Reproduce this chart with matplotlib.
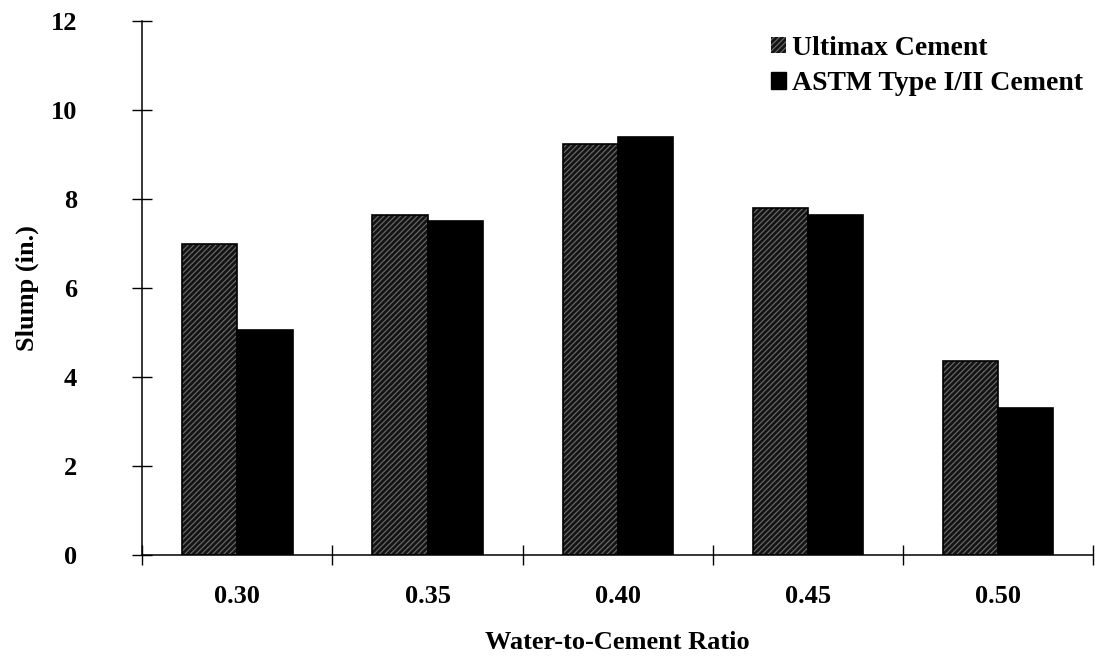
import matplotlib.pyplot as plt
import numpy as np
from matplotlib.patches import Patch

plt.rcParams["font.family"] = ["Liberation Serif", "DejaVu Serif"]
plt.rcParams["font.weight"] = "bold"
plt.rcParams["hatch.linewidth"] = 0.8

ratios = ["0.30", "0.35", "0.40", "0.45", "0.50"]
ultimax = [7.0, 7.65, 9.25, 7.8, 4.35]
astm = [5.05, 7.5, 9.4, 7.65, 3.3]
yticks = [0, 2, 4, 6, 8, 10, 12]

fig = plt.figure(figsize=(11.03, 6.63), dpi=100)
ax = fig.add_axes([0.129, 0.163, 0.862, 0.805])

x = np.arange(len(ratios))
w = 0.29
ax.bar(x - w / 2, ultimax, w, color="#141414", edgecolor="#6e6e6e",
       hatch="//////", linewidth=0)
ax.bar(x - w / 2, ultimax, w, fill=False, edgecolor="black", linewidth=1.2)
ax.bar(x + w / 2, astm, w, color="black", edgecolor="black", linewidth=1.2)

ax.set_xlim(-0.5, len(ratios) - 0.5)
ax.set_ylim(0, 12)
ax.set_yticks(yticks)
ax.set_yticklabels([str(v) for v in yticks], fontsize=19, fontweight="bold")

# boundaries get tick marks, centres get the labels
ax.set_xticks(np.arange(len(ratios) + 1) - 0.5)
ax.set_xticklabels([])
ax.set_xticks(x, minor=True)
ax.set_xticklabels(ratios, minor=True, fontsize=19, fontweight="bold")
ax.tick_params(axis="x", which="major", direction="inout", length=14, width=1)
ax.tick_params(axis="x", which="minor", length=0, pad=22)
ax.tick_params(axis="y", direction="inout", length=14, width=1, pad=40)

for side in ["top", "right"]:
    ax.spines[side].set_visible(False)
ax.spines["left"].set_linewidth(1.1)
ax.spines["bottom"].set_linewidth(1.1)

ax.set_xlabel("Water-to-Cement Ratio", fontsize=19, fontweight="bold", labelpad=16)
ax.set_ylabel("Slump (in.)", fontsize=19, fontweight="bold", labelpad=8)

handles = [
    Patch(facecolor="#141414", edgecolor="#6e6e6e", hatch="//////", linewidth=0),
    Patch(facecolor="black", edgecolor="black"),
]
fig.legend(handles, ["Ultimax Cement", "ASTM Type I/II Cement"], loc="upper left",
           bbox_to_anchor=(0.699, 0.946), frameon=False,
           prop={"weight": "bold", "size": 20}, handlelength=0.55, handleheight=0.55,
           handletextpad=0.2, labelspacing=0.38, borderpad=0, borderaxespad=0)

fig.savefig("out.png", dpi=100)
